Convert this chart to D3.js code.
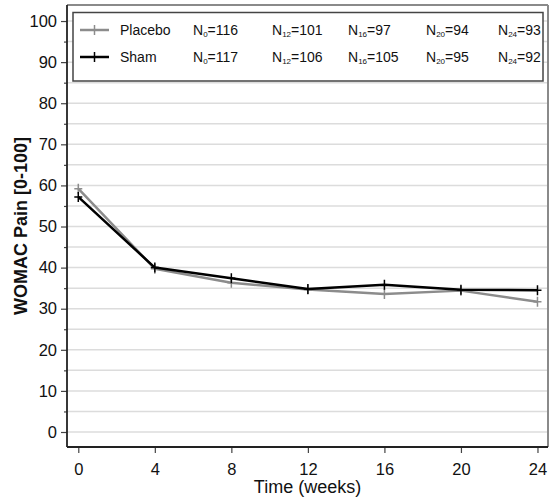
<!DOCTYPE html>
<html><head><meta charset="utf-8">
<script src="https://cdn.jsdelivr.net/npm/d3@7"></script>
<style>body{margin:0;background:#fff}svg{display:block;font-family:"Liberation Sans",Arial,sans-serif}</style>
</head><body><svg id="c" width="551" height="499"></svg>
<script>
const weeks = [0, 4, 8, 12, 16, 20, 24];
const placebo = [59.2, 39.7, 36.3, 34.7, 33.6, 34.4, 31.7];
const sham = [57.2, 40.0, 37.4, 34.8, 35.8, 34.6, 34.5];
const xTicks = [0, 4, 8, 12, 16, 20, 24];
const yTicks = [0, 10, 20, 30, 40, 50, 60, 70, 80, 90, 100];
const yMinor = [5, 15, 25, 35, 45, 55, 65, 75, 85, 95];
const nPlacebo = [["0","116"],["12","101"],["16","97"],["20","94"],["24","93"]];
const nSham = [["0","117"],["12","106"],["16","105"],["20","95"],["24","92"]];
const series = [
  {name:"Placebo", values:placebo, color:"#8c8c8c", n:nPlacebo},
  {name:"Sham", values:sham, color:"#000000", n:nSham}
];

const svg = d3.select("#c");
const L = 67, R = 548, T = 5, B = 447;
const x = d3.scaleLinear().domain([-0.59, 24.55]).range([L, R]);
const y = d3.scaleLinear().domain([-3.65, 103.9]).range([B, T]);

// gridlines
svg.append("g").selectAll("line").data(yTicks.concat(yMinor)).join("line")
  .attr("x1", L).attr("x2", R).attr("y1", d=>y(d)).attr("y2", d=>y(d))
  .attr("stroke", "#dcdcdc").attr("stroke-width", 1.5);

// frame top/right
svg.append("line").attr("x1", L).attr("x2", R).attr("y1", T).attr("y2", T).attr("stroke", "#8a8a8a").attr("stroke-width", 2);
svg.append("line").attr("x1", R).attr("x2", R).attr("y1", T).attr("y2", B).attr("stroke", "#8a8a8a").attr("stroke-width", 2);

// axes
const yAxis = d3.axisLeft(y).tickValues(yTicks).tickSize(6).tickPadding(4).tickFormat(d3.format("d"));
const gy = svg.append("g").attr("transform", `translate(${L},0)`).call(yAxis);
gy.select(".domain").remove();
gy.selectAll(".tick line").attr("stroke", "#444").attr("stroke-width", 1.2);
gy.selectAll("text").attr("font-size", 16.5).attr("fill", "#111");
const gym = svg.append("g").attr("transform", `translate(${L},0)`)
  .call(d3.axisLeft(y).tickValues(yMinor).tickSize(3).tickFormat(""));
gym.select(".domain").remove();
gym.selectAll(".tick line").attr("stroke", "#444").attr("stroke-width", 1.2);

const xAxis = d3.axisBottom(x).tickValues(xTicks).tickSize(6).tickPadding(10).tickFormat(d3.format("d"));
const gx = svg.append("g").attr("transform", `translate(0,${B})`).call(xAxis);
gx.select(".domain").remove();
gx.selectAll(".tick line").attr("stroke", "#444").attr("stroke-width", 1.2);
gx.selectAll("text").attr("font-size", 16.5).attr("fill", "#111");

svg.append("line").attr("x1", L).attr("x2", L).attr("y1", T).attr("y2", B).attr("stroke", "#222").attr("stroke-width", 1.8);
svg.append("line").attr("x1", L).attr("x2", R).attr("y1", B).attr("y2", B).attr("stroke", "#222").attr("stroke-width", 1.8);

// titles
svg.append("text").attr("x", (L+R)/2).attr("y", 493).attr("text-anchor", "middle")
  .attr("font-size", 18).attr("fill", "#111").text("Time (weeks)");
svg.append("text").attr("transform", `translate(27,${(T+B)/2}) rotate(-90)`).attr("text-anchor", "middle")
  .attr("font-size", 18).attr("font-weight", "bold").attr("fill", "#111").text("WOMAC Pain [0-100]");

// lines
const line = d3.line().x((d,i)=>x(weeks[i])).y(d=>y(d));
series.forEach(s => {
  svg.append("path").datum(s.values).attr("d", line).attr("fill", "none")
    .attr("stroke", s.color).attr("stroke-width", 2.5).attr("stroke-linejoin", "round");
  svg.append("g").selectAll("path").data(s.values).join("path")
    .attr("d", (d,i)=>`M${x(weeks[i])-4},${y(d)}h8M${x(weeks[i])},${y(d)-5}v10`)
    .attr("stroke", s.color).attr("stroke-width", 1.5);
});

// legend
const lg = svg.append("g");
lg.append("rect").attr("x", 73).attr("y", 12.5).attr("width", 470).attr("height", 68.5)
  .attr("fill", "#fff").attr("stroke", "#444").attr("stroke-width", 1.5);
const nx = [193, 272, 348, 426, 498];
series.forEach((s, r) => {
  const yy = 30 + r*27;
  lg.append("line").attr("x1", 80).attr("x2", 109).attr("y1", yy).attr("y2", yy).attr("stroke", s.color).attr("stroke-width", 2.5);
  lg.append("path").attr("d", `M94.5,${yy-5}v10`).attr("stroke", s.color).attr("stroke-width", 1.5);
  lg.append("text").attr("x", 120).attr("y", yy+5).attr("font-size", 14).attr("fill", "#111").text(s.name);
  s.n.forEach((n, k) => {
    const t = lg.append("text").attr("x", nx[k]).attr("y", yy+5).attr("font-size", 14).attr("fill", "#111");
    t.append("tspan").text("N");
    t.append("tspan").attr("font-size", 8).attr("dy", 2).text(n[0]);
    t.append("tspan").attr("dy", -2).text("=" + n[1]);
  });
});
</script></body></html>
